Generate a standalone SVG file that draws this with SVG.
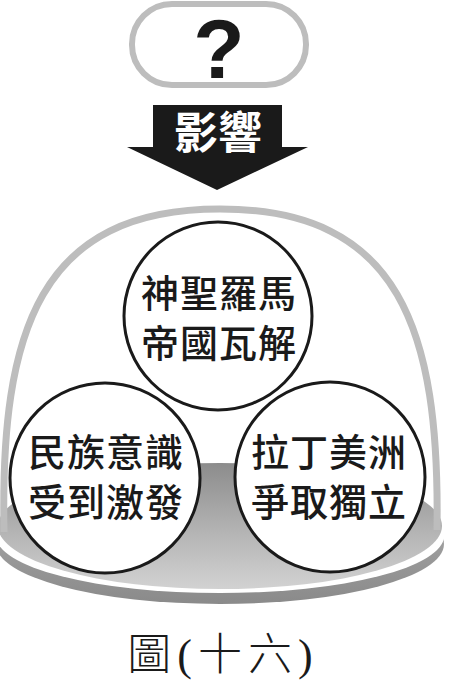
<svg xmlns="http://www.w3.org/2000/svg" width="470" height="688" viewBox="0 0 470 688">
<defs>
<style>
.cj{font-family:"Noto Sans CJK TC","Noto Sans CJK SC",sans-serif;font-weight:500;font-size:38px;fill:#1a1a1a;text-anchor:middle;letter-spacing:1px}
.node{fill:#fff;stroke:#1a1a1a;stroke-width:3}
</style>
<linearGradient id="surf" x1="0" y1="0" x2="0" y2="1">
<stop offset="0" stop-color="#8c8c8c"/>
<stop offset="0.55" stop-color="#b4b4b4"/>
<stop offset="1" stop-color="#d2d2d2"/>
</linearGradient>
<linearGradient id="band" x1="0" y1="0" x2="0" y2="1">
<stop offset="0" stop-color="#b0b0b0"/>
<stop offset="1" stop-color="#8a8a8a"/>
</linearGradient>
</defs>
<rect width="470" height="688" fill="#fff"/>
<g id="question">
<rect x="132" y="4" width="174" height="81" rx="40" fill="#fff" stroke="#bdbdbd" stroke-width="6"/>
<text x="219" y="78" font-family="Liberation Sans, sans-serif" font-weight="bold" font-size="84" text-anchor="middle" fill="#1a1a1a">?</text>
</g>
<g id="connectors">
<polygon points="153,105 282,105 282,147 308,147 217,190 127,147 153,147" fill="#1a1a1a"/>
<text x="218" y="149" font-family="Noto Sans CJK TC, Noto Sans CJK SC, sans-serif" font-weight="700" font-size="44" text-anchor="middle" fill="#fff">影響</text>
</g>
<g id="base">
<ellipse cx="220" cy="544" rx="224" ry="60" fill="url(#band)"/>
<ellipse cx="220" cy="536" rx="224" ry="57" fill="#fff"/>
<ellipse cx="220" cy="526" rx="222" ry="63" fill="url(#surf)"/>
</g>
<g id="dome">
<path d="M4,532 C0,330 40,209 220,209 C400,209 440,330 437,530" fill="none" stroke="#bdbdbd" stroke-width="7"/>
</g>
<g id="n1">
<circle class="node" cx="218" cy="316" r="94"/>
<text class="cj"><tspan x="219" y="307">神聖羅馬</tspan><tspan x="219" y="357">帝國瓦解</tspan></text>
</g>
<g id="n2">
<circle class="node" cx="105" cy="478" r="95"/>
<text class="cj"><tspan x="106" y="466">民族意識</tspan><tspan x="106" y="516">受到激發</tspan></text>
</g>
<g id="n3">
<circle class="node" cx="330" cy="477" r="95"/>
<text class="cj"><tspan x="329" y="466">拉丁美洲</tspan><tspan x="329" y="516">爭取獨立</tspan></text>
</g>
<g id="caption">
<text x="223" y="670" font-family="Liberation Serif, Noto Sans CJK TC, serif" font-weight="300" font-size="44" text-anchor="middle" fill="#1a1a1a" letter-spacing="6">圖(十六)</text>
</g>
</svg>
